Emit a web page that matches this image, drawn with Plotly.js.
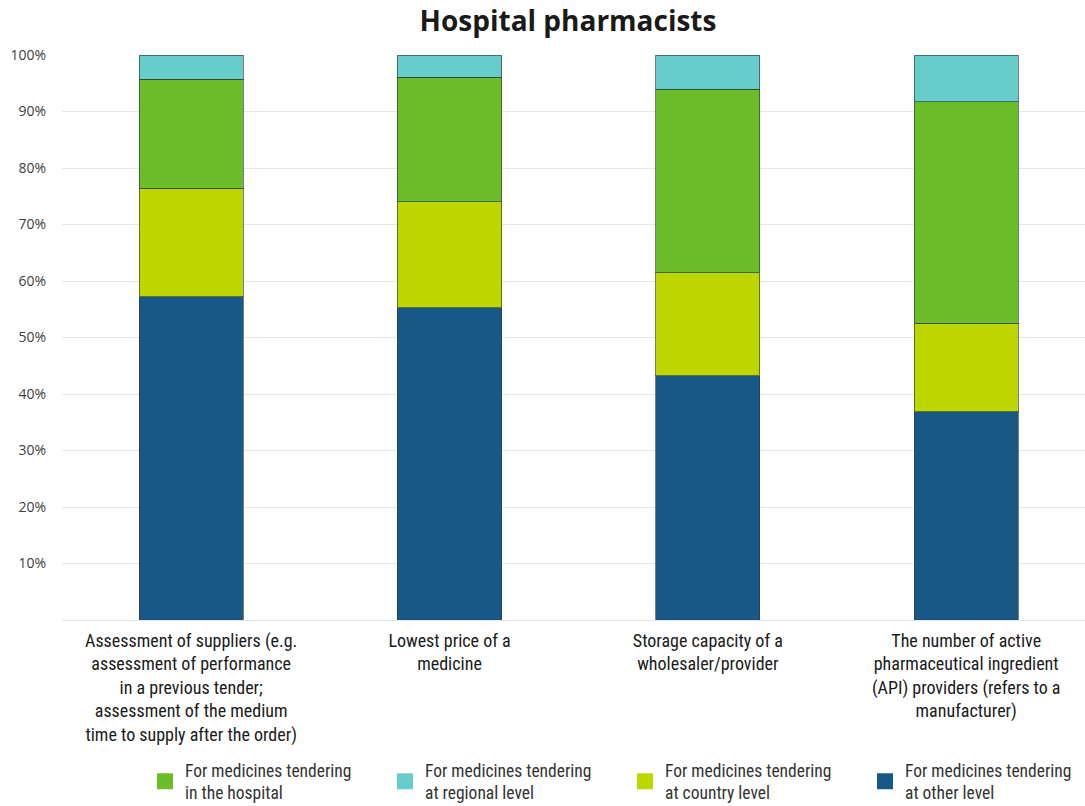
<!DOCTYPE html>
<html><head><meta charset="utf-8">
<script src="https://cdn.plot.ly/plotly-3.0.1.min.js"></script>
<style>html,body{margin:0;padding:0;background:#fff}#chart{width:1085px;height:806px}</style>
</head><body><div id="chart"></div>
<script>
const categories = [
  "Assessment of suppliers (e.g.<br>assessment of performance<br>in a previous tender;<br>assessment of the medium<br>time to supply after the order)",
  "Lowest price of a<br>medicine",
  "Storage capacity of a<br>wholesaler/provider",
  "The number of active<br>pharmaceutical ingredient<br>(API) providers (refers to a<br>manufacturer)"
];
const otherLevel = [57.2, 55.3, 43.2, 36.9];
const countryLevel = [19.2, 18.7, 18.3, 15.6];
const hospitalLevel = [19.3, 22.1, 32.4, 39.2];
const regionalLevel = [4.3, 3.9, 6.1, 8.3];
const seriesNames = {
  hospital: "For medicines tendering<br>in the hospital",
  regional: "For medicines tendering<br>at regional level",
  country: "For medicines tendering<br>at country level",
  other: "For medicines tendering<br>at other level"
};
const tickVals = [10, 20, 30, 40, 50, 60, 70, 80, 90, 100];
const tickText = ["10%", "20%", "30%", "40%", "50%", "60%", "70%", "80%", "90%", "100%"];

const colors = {other: "#185887", country: "#bed600", hospital: "#6bbe2a", regional: "#66cdca"};
const narrow = "'Liberation Sans Narrow', 'Arial Narrow', 'Roboto Condensed', sans-serif";
const outline = {color: "rgba(45,60,60,0.65)", width: 1};

function barTrace(key, vals) {
  return {type: "bar", x: categories, y: vals, name: seriesNames[key], showlegend: false,
    marker: {color: colors[key], line: outline}, hoverinfo: "y"};
}
function legendProxy(key, rank) {
  return {type: "scatter", mode: "markers", x: [null], y: [null], name: seriesNames[key],
    legendrank: rank, marker: {symbol: "square", size: 16, color: colors[key], line: {width: 0}}};
}

const data = [
  barTrace("other", otherLevel),
  barTrace("country", countryLevel),
  barTrace("hospital", hospitalLevel),
  barTrace("regional", regionalLevel),
  legendProxy("hospital", 1),
  legendProxy("regional", 2),
  legendProxy("country", 3),
  legendProxy("other", 4)
];

const layout = {
  width: 1085, height: 806,
  paper_bgcolor: "#fff", plot_bgcolor: "#fff",
  margin: {l: 62, r: 0, t: 55, b: 186},
  barmode: "stack", bargap: 0.597,
  title: {text: "<b>Hospital pharmacists</b>", font: {family: "'Open Sans', sans-serif", size: 28, color: "#1a1a1a"},
    x: 568 / 1085, xref: "container", xanchor: "center", y: 1 - 21 / 806, yref: "container", yanchor: "middle"},
  xaxis: {type: "category", range: [-0.5, 3.46], showgrid: false, showline: false, zeroline: false, ticks: "",
    ticklabelstandoff: 8,
    tickfont: {family: narrow, size: 18, color: "#1a1a1a"}, automargin: false, fixedrange: true},
  yaxis: {range: [0, 100], tickvals: tickVals, ticktext: tickText, showgrid: true, gridcolor: "#e6e6e6", gridwidth: 1,
    zeroline: true, zerolinecolor: "#e6e6e6", zerolinewidth: 1, showline: false, ticks: "",
    ticklabelstandoff: 15, tickfont: {family: "'Open Sans', sans-serif", size: 14, color: "#404040"}, automargin: false, fixedrange: true},
  showlegend: true,
  legend: {orientation: "h", traceorder: "normal", xref: "container", yref: "container", x: 145 / 1085, y: 1 - 752 / 806,
    xanchor: "left", yanchor: "top", entrywidth: 195, entrywidthmode: "pixels", itemsizing: "trace",
    font: {family: narrow, size: 17.5, color: "#333"}, bgcolor: "rgba(0,0,0,0)", valign: "middle"}
};

Plotly.newPlot("chart", data, layout, {displayModeBar: false, staticPlot: true});
</script></body></html>
